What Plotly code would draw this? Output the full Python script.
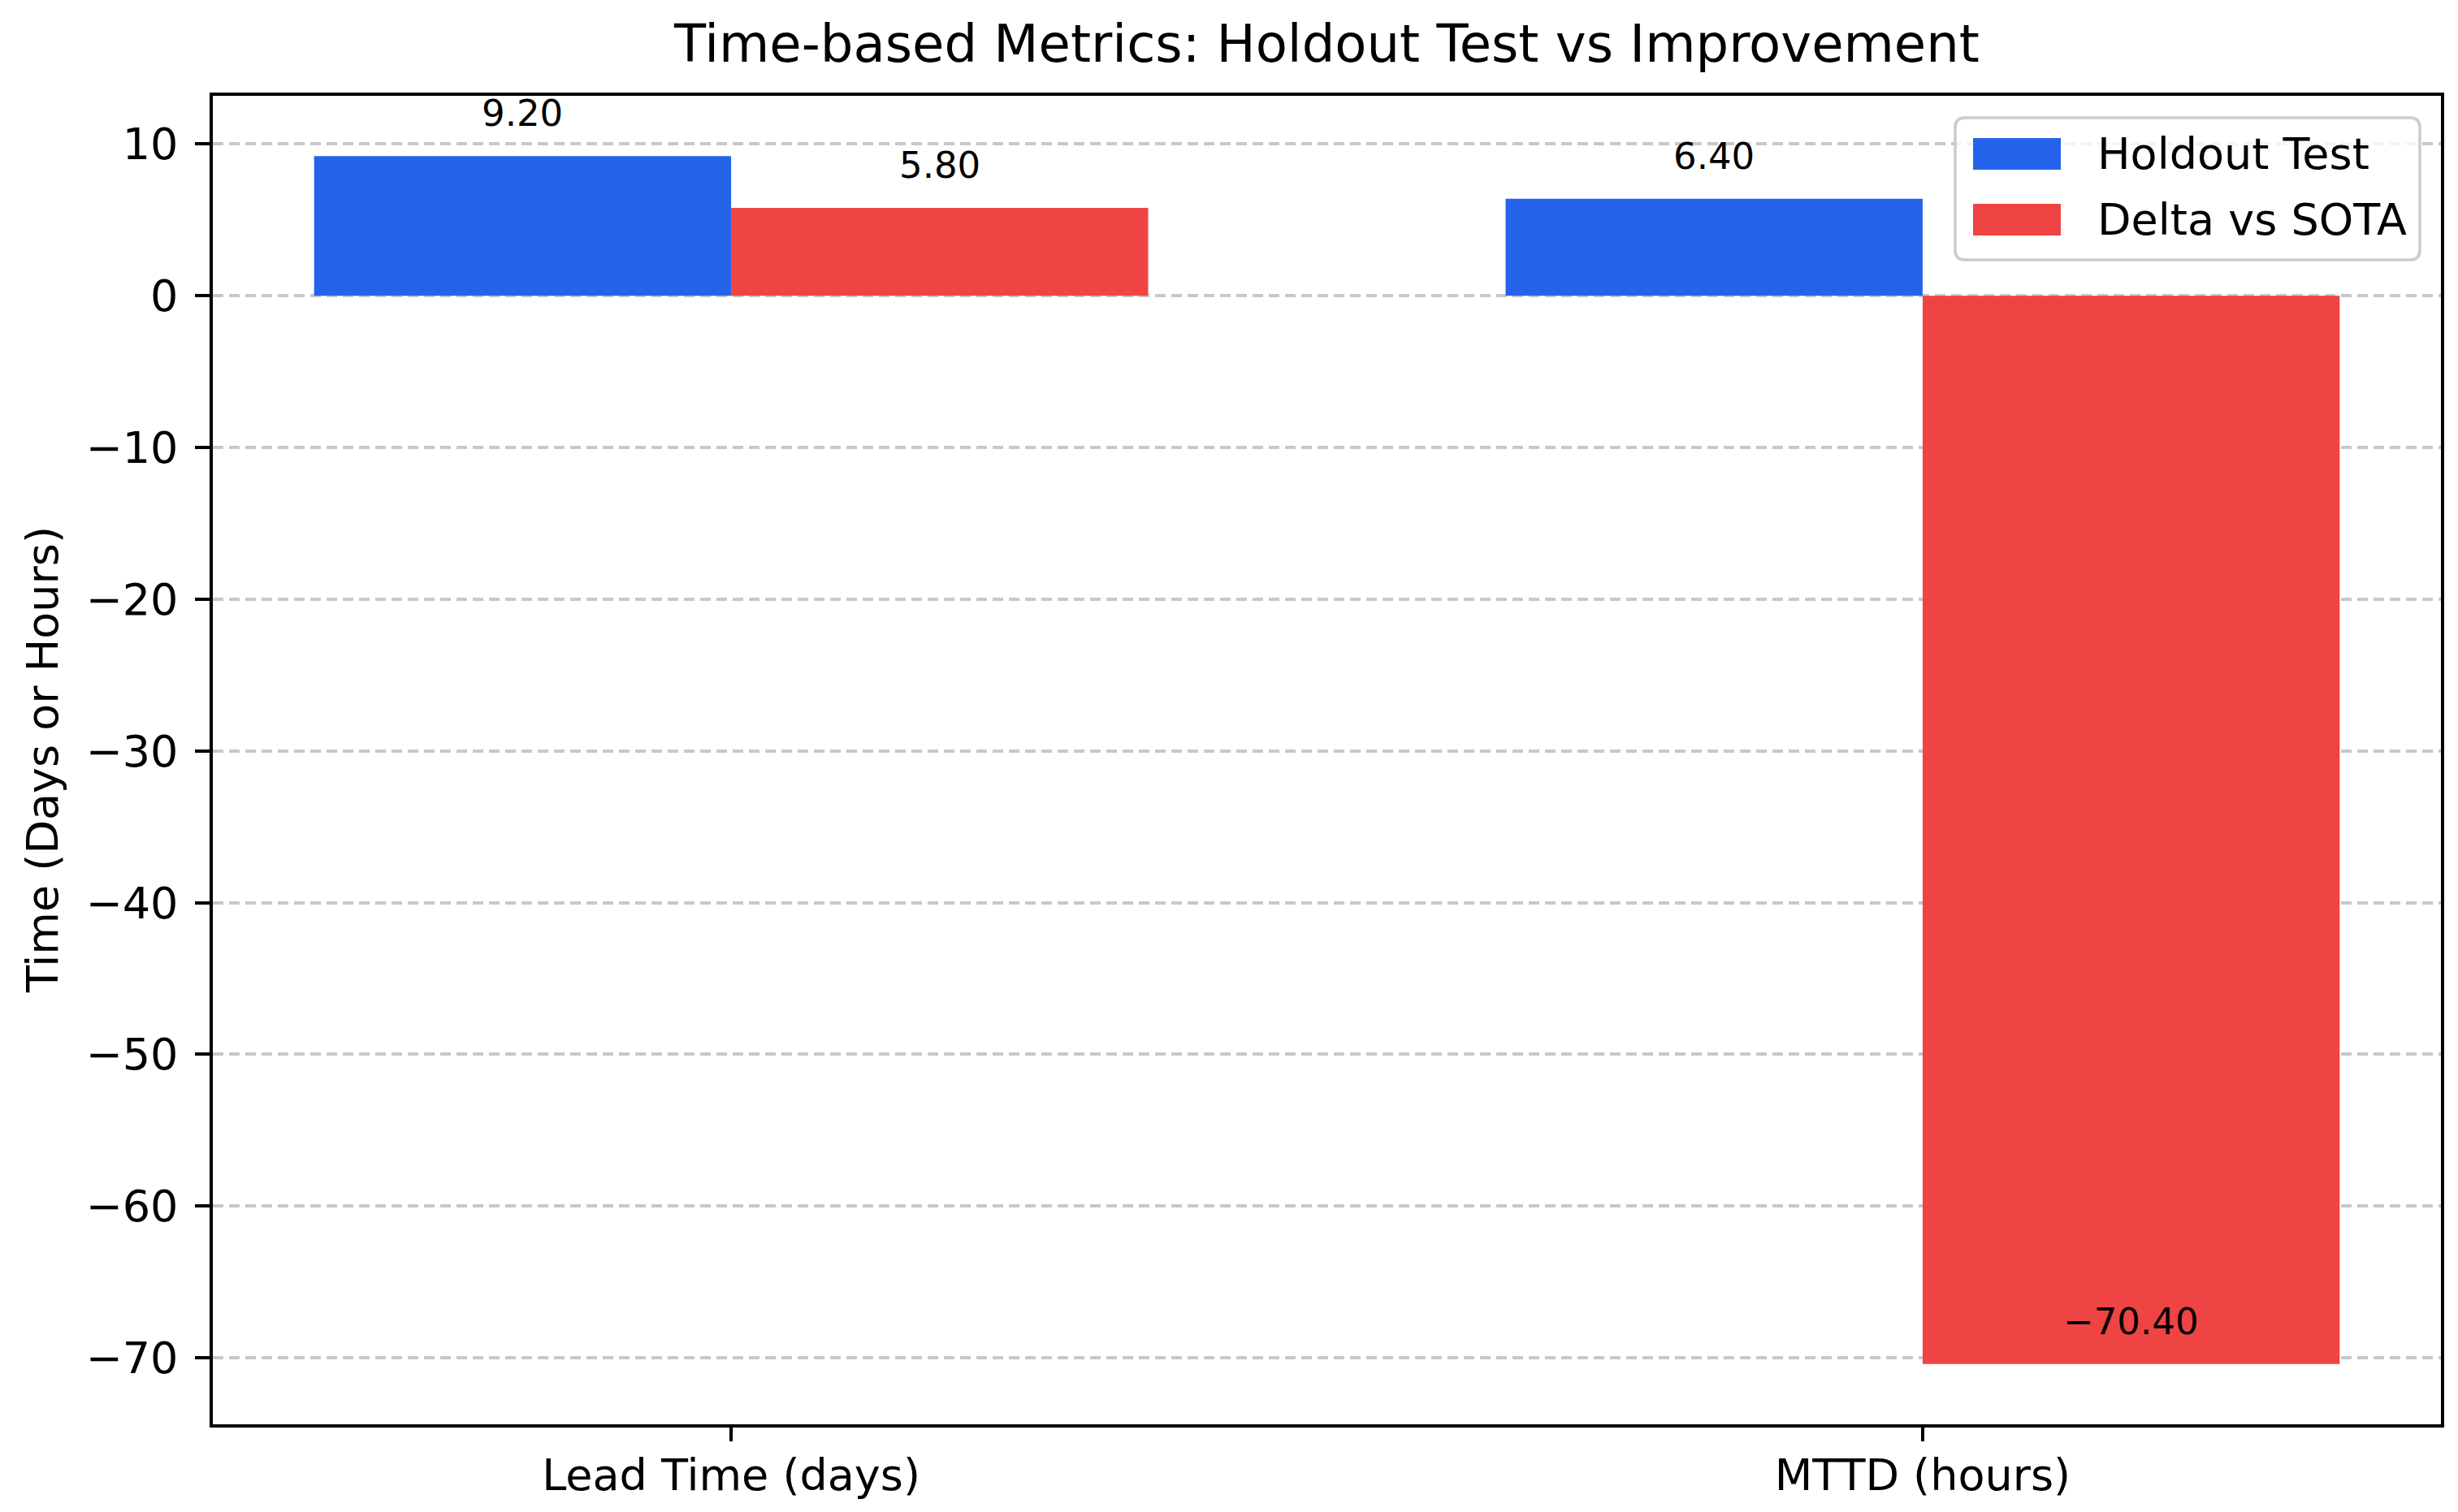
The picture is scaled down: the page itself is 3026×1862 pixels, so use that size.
import plotly.graph_objects as go

categories = ["Lead Time (days)", "MTTD (hours)"]
holdout_values = [9.2, 6.4]
delta_values = [5.8, -70.4]
series_names = ["Holdout Test", "Delta vs SOTA"]
y_ticks = [10, 0, -10, -20, -30, -40, -50, -60, -70]

BLUE = "#2563eb"
RED = "#ef4444"
COLORS = [BLUE, RED]
FONT = "DejaVu Sans"
W, H = 3026, 1862
ML, MR, MT, MB = 254, 29, 110, 116
PW, PH = W - ML - MR, H - MT - MB
bar_w = 0.35
FS = 54

x_idx = list(range(len(categories)))
fig = go.Figure()
fig.add_trace(go.Bar(x=[i - bar_w / 2 for i in x_idx], y=holdout_values, width=bar_w,
                     name=series_names[0], marker=dict(color=BLUE, line=dict(width=0))))
fig.add_trace(go.Bar(x=[i + bar_w / 2 for i in x_idx], y=delta_values, width=bar_w,
                     name=series_names[1], marker=dict(color=RED, line=dict(width=0))))

for offs, vals in ((-bar_w / 2, holdout_values), (bar_w / 2, delta_values)):
    for i, v in zip(x_idx, vals):
        fig.add_annotation(x=i + offs, y=v, text=f"{v:.2f}".replace("-", "\u2212"),
                           showarrow=False, yanchor="bottom", yshift=24,
                           font=dict(family=FONT, size=45, color="black"))

ymin = min(min(holdout_values), min(delta_values), 0)
ymax = max(max(holdout_values), max(delta_values), 0)
pad = (ymax - ymin) * 0.05
xmin, xmax = -bar_w, len(categories) - 1 + bar_w
xpad = (xmax - xmin) * 0.05


# pixel -> paper helpers (for the matplotlib-like legend box)
def px(p):
    return (p - ML) / PW


def py(p):
    return (H - MB - p) / PH


def rounded_rect(x0, y0, x1, y1, r):
    return (f"M {px(x0 + r)},{py(y0)} L {px(x1 - r)},{py(y0)} "
            f"Q {px(x1)},{py(y0)} {px(x1)},{py(y0 + r)} L {px(x1)},{py(y1 - r)} "
            f"Q {px(x1)},{py(y1)} {px(x1 - r)},{py(y1)} L {px(x0 + r)},{py(y1)} "
            f"Q {px(x0)},{py(y1)} {px(x0)},{py(y1 - r)} L {px(x0)},{py(y0 + r)} "
            f"Q {px(x0)},{py(y0)} {px(x0 + r)},{py(y0)} Z")


fig.add_shape(type="path", xref="paper", yref="paper",
              path=rounded_rect(2399, 137, 2971, 312, 12),
              fillcolor="rgba(255,255,255,0.8)", line=dict(color="#cccccc", width=3.6),
              layer="above")
for k, (name, col) in enumerate(zip(series_names, COLORS)):
    top = 162 + k * 81
    fig.add_shape(type="rect", xref="paper", yref="paper",
                  x0=px(2421), x1=px(2529), y0=py(top), y1=py(top + 39),
                  fillcolor=col, line=dict(width=0), layer="above")
    fig.add_annotation(xref="paper", yref="paper", x=px(2572), y=py(top + 19.5),
                       xanchor="left", yanchor="middle", text=name, showarrow=False,
                       font=dict(family=FONT, size=FS, color="black"))

# y-axis title
fig.add_annotation(xref="paper", yref="paper", x=px(44), y=0.5, xanchor="center",
                   yanchor="middle", textangle=-90, text="Time (Days or Hours)",
                   showarrow=False, font=dict(family=FONT, size=FS, color="black"))

fig.update_layout(
    width=W, height=H,
    paper_bgcolor="white", plot_bgcolor="white",
    margin=dict(l=ML, r=MR, t=MT, b=MB),
    barmode="overlay",
    font=dict(family=FONT, size=FS, color="black"),
    title=dict(text="Time-based Metrics: Holdout Test vs Improvement", x=0.5,
               xref="paper", xanchor="center", y=1 - 46 / H, yanchor="middle",
               font=dict(family=FONT, size=64, color="black")),
    showlegend=False,
)
fig.update_xaxes(range=[xmin - xpad, xmax + xpad], tickmode="array", tickvals=x_idx,
                 ticktext=categories, ticks="outside", ticklen=17, tickwidth=3.6, tickcolor="black",
                 showline=True, linecolor="black", linewidth=3.6, mirror=True,
                 showgrid=False, zeroline=False, tickfont=dict(size=FS), ticklabelstandoff=-5)
fig.update_yaxes(range=[ymin - pad, ymax + pad], tickmode="array", tickvals=y_ticks,
                 ticktext=[str(t).replace("-", "\u2212") for t in y_ticks],
                 ticks="outside", ticklen=18, tickwidth=3.6, tickcolor="black",
                 showline=True, linecolor="black", linewidth=3.6, mirror=True,
                 showgrid=True, gridcolor="rgba(176,176,176,0.7)", gridwidth=3.6,
                 griddash="13px,7px", ticklabelstandoff=10,
                 zeroline=False, layer="above traces", tickfont=dict(size=FS))

fig.write_html("out.html")
